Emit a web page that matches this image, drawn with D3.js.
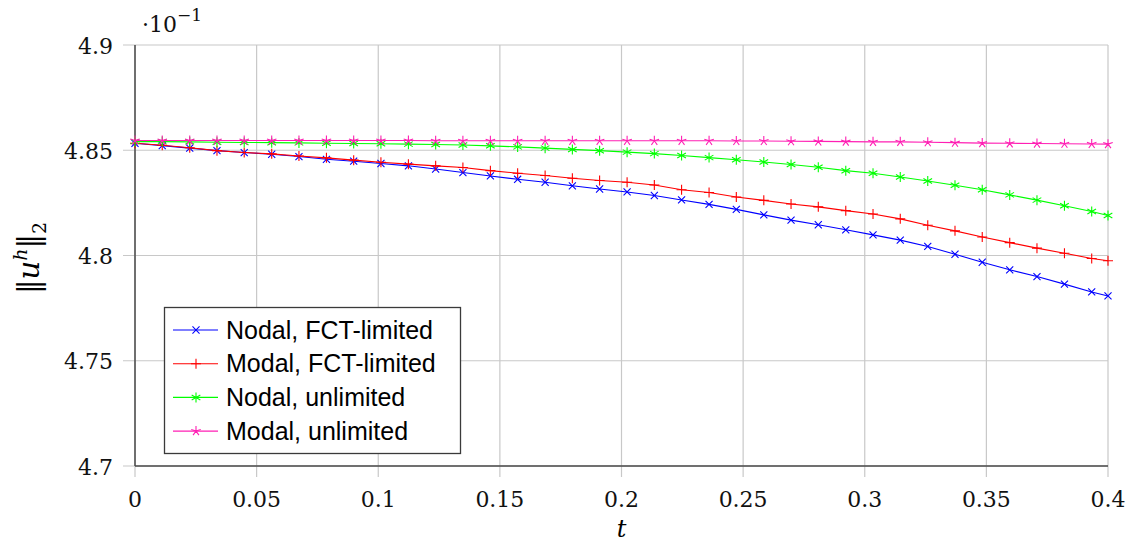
<!DOCTYPE html>
<meta charset="utf-8" />
<style>
  body {
    margin: 0;
    background: #fff;
  }

  .grid line {
    stroke: #c8c8c8;
    stroke-width: 1.2px;
  }

  .ticklabel {
    font-family: "DejaVu Serif", serif;
    font-size: 22px;
    fill: #111;
  }

  .legend text {
    font-family: "Liberation Sans", Arial, sans-serif;
    font-size: 25px;
    fill: #000;
  }
</style>
<svg width="1130" height="544"></svg>

<script src="https://d3js.org/d3.v7.min.js"></script>
<script>
  /* global d3 */

  var time = [
    0, 0.0112, 0.0225, 0.0337, 0.0449, 0.0562, 0.0674, 0.0787, 0.0899, 0.1011,
    0.1124, 0.1236, 0.1348, 0.1461, 0.1573, 0.1686, 0.1798, 0.191, 0.2023,
    0.2135, 0.2247, 0.236, 0.2472, 0.2585, 0.2697, 0.2809, 0.2922, 0.3034,
    0.3146, 0.3259, 0.3371, 0.3483, 0.3596, 0.3708, 0.3821, 0.3933, 0.4
  ];

  var nodalFct = [
    4.8533, 4.8522, 4.851, 4.8498, 4.8489, 4.8481, 4.847, 4.8457, 4.8448,
    4.8437, 4.8426, 4.8411, 4.8394, 4.8378, 4.8362, 4.8348, 4.8331, 4.8316,
    4.8302, 4.8285, 4.8264, 4.8243, 4.8219, 4.8193, 4.8168, 4.8146, 4.8122,
    4.8098, 4.8073, 4.8043, 4.8006, 4.7968, 4.7932, 4.79, 4.7864, 4.7827,
    4.7808
  ];

  var modalFct = [
    4.8533, 4.8524, 4.8512, 4.8498, 4.8489, 4.8483, 4.8473, 4.8464, 4.8453,
    4.8443, 4.8434, 4.8426, 4.8418, 4.8403, 4.8391, 4.838, 4.8367, 4.8356,
    4.8348, 4.8335, 4.8312, 4.8299, 4.8278, 4.8262, 4.8245, 4.8231, 4.8213,
    4.8197, 4.8174, 4.8144, 4.8117, 4.8088, 4.8061, 4.8035, 4.8011, 4.7986,
    4.7975
  ];

  var nodalUnlim = [
    4.8541, 4.8541, 4.854, 4.8538, 4.8537, 4.8536, 4.8535, 4.8533, 4.8532,
    4.8531, 4.8529, 4.8527, 4.8525, 4.8521, 4.8516, 4.851, 4.8504, 4.8498,
    4.8491, 4.8484, 4.8475, 4.8465, 4.8455, 4.8444, 4.8432, 4.8419, 4.8403,
    4.8391, 4.8373, 4.8354, 4.8334, 4.8312, 4.8288, 4.8263, 4.8236, 4.8209,
    4.819
  ];

  var modalUnlim = [
    4.8546, 4.8546, 4.8546, 4.8546, 4.8546, 4.8546, 4.8546, 4.8546, 4.8546,
    4.8546, 4.8546, 4.8545, 4.8545, 4.8545, 4.8545, 4.8545, 4.8545, 4.8545,
    4.8545, 4.8545, 4.8545, 4.8545, 4.8544, 4.8544, 4.8543, 4.8542, 4.8541,
    4.854, 4.854, 4.8538, 4.8536, 4.8534, 4.8533, 4.8532, 4.8531, 4.853,
    4.8529
  ];

  var xTicks = [0, 0.05, 0.1, 0.15, 0.2, 0.25, 0.3, 0.35, 0.4];
  var yTicks = [4.7, 4.75, 4.8, 4.85, 4.9];

  var series = [
    { name: "Nodal, FCT-limited", values: nodalFct, color: "#0000ff", mark: "cross" },
    { name: "Modal, FCT-limited", values: modalFct, color: "#ff0000", mark: "plus" },
    { name: "Nodal, unlimited", values: nodalUnlim, color: "#00ff00", mark: "asterisk" },
    { name: "Modal, unlimited", values: modalUnlim, color: "#ff1fb4", mark: "star" }
  ];

  var svg = d3.select("svg");
  var plotL = 135,
    plotR = 1108,
    plotT = 45,
    plotB = 466;

  var x = d3.scaleLinear().domain([0, 0.4]).range([plotL, plotR]);
  var y = d3.scaleLinear().domain([4.7, 4.9]).range([plotB, plotT]);

  // marker shapes, pgfplots style
  function markPath(kind, r) {
    var p = d3.path();
    function spoke(a, both) {
      var dx = Math.cos(a) * r,
        dy = -Math.sin(a) * r;
      if (both) {
        p.moveTo(-dx, -dy);
      } else {
        p.moveTo(0, 0);
      }
      p.lineTo(dx, dy);
    }
    if (kind === "cross") {
      spoke(Math.PI / 4, true);
      spoke(-Math.PI / 4, true);
    } else if (kind === "plus") {
      spoke(0, true);
      spoke(Math.PI / 2, true);
    } else if (kind === "asterisk") {
      spoke(Math.PI / 2, true);
      spoke(Math.PI / 6, true);
      spoke(-Math.PI / 6, true);
    } else {
      for (var i = 0; i < 5; i++) spoke(Math.PI / 2 + (i * 2 * Math.PI) / 5, false);
    }
    return p.toString();
  }

  // grid + tick extensions
  var grid = svg.append("g").attr("class", "grid");
  grid
    .selectAll("line.gx")
    .data(xTicks)
    .enter()
    .append("line")
    .attr("class", "gx")
    .attr("x1", function (d) { return x(d); })
    .attr("x2", function (d) { return x(d); })
    .attr("y1", plotT)
    .attr("y2", plotB + 11);
  grid
    .selectAll("line.gy")
    .data(yTicks)
    .enter()
    .append("line")
    .attr("class", "gy")
    .attr("x1", plotL - 12)
    .attr("x2", plotR)
    .attr("y1", function (d) { return y(d); })
    .attr("y2", function (d) { return y(d); });

  // axis lines (left and bottom only)
  svg.append("line")
    .attr("x1", plotL).attr("x2", plotL)
    .attr("y1", plotT).attr("y2", plotB)
    .attr("stroke", "#4a4a4a").attr("stroke-width", 1.5);
  svg.append("line")
    .attr("x1", plotL).attr("x2", plotR)
    .attr("y1", plotB).attr("y2", plotB)
    .attr("stroke", "#4a4a4a").attr("stroke-width", 1.5);

  // tick labels
  svg.selectAll("text.xt")
    .data(xTicks)
    .enter()
    .append("text")
    .attr("class", "ticklabel xt")
    .attr("x", function (d) { return x(d); })
    .attr("y", plotB + 41)
    .attr("text-anchor", "middle")
    .text(function (d) { return d; });

  svg.selectAll("text.yt")
    .data(yTicks)
    .enter()
    .append("text")
    .attr("class", "ticklabel yt")
    .attr("x", plotL - 22)
    .attr("y", function (d) { return y(d) + 8.5; })
    .attr("text-anchor", "end")
    .text(function (d) { return d; });

  // ·10^-1 multiplier
  var mult = svg.append("text").attr("class", "ticklabel").attr("x", 142).attr("y", 32);
  mult.append("tspan").text("·10");
  mult.append("tspan").attr("dy", -11).style("font-size", "17px").text("−1");

  // axis labels
  svg.append("text")
    .attr("x", x(0.2))
    .attr("y", 537)
    .attr("text-anchor", "middle")
    .style("font-family", "DejaVu Serif, serif")
    .style("font-style", "italic")
    .style("font-size", "24px")
    .text("t");

  var yl = svg.append("text")
    .attr("transform", "translate(39,258) rotate(-90)")
    .attr("text-anchor", "middle")
    .style("font-family", "DejaVu Serif, serif")
    .style("font-size", "29px");
  yl.append("tspan").text("‖");
  yl.append("tspan").style("font-style", "italic").text("u");
  yl.append("tspan").attr("dy", -12).style("font-style", "italic").style("font-size", "19px").text("h");
  yl.append("tspan").attr("dy", 12).text("‖");
  yl.append("tspan").attr("dy", 7).style("font-size", "19px").text("2");

  // series
  var line = d3
    .line()
    .x(function (d, i) { return x(time[i]); })
    .y(function (d) { return y(d); });

  var plots = svg.selectAll("g.series").data(series).enter().append("g").attr("class", "series");

  plots.append("path")
    .attr("d", function (s) { return line(s.values); })
    .attr("fill", "none")
    .attr("stroke", function (s) { return s.color; })
    .attr("stroke-width", 1.1);

  plots.each(function (s) {
    d3.select(this)
      .selectAll("path.mk")
      .data(s.values)
      .enter()
      .append("path")
      .attr("class", "mk")
      .attr("transform", function (d, i) { return "translate(" + x(time[i]) + "," + y(d) + ")"; })
      .attr("d", markPath(s.mark, 5))
      .attr("fill", "none")
      .attr("stroke", s.color)
      .attr("stroke-width", 1.1);
  });

  // legend
  var lg = svg.append("g").attr("class", "legend");
  lg.append("rect")
    .attr("x", 164.5).attr("y", 307.5)
    .attr("width", 296).attr("height", 146)
    .attr("fill", "#fff")
    .attr("stroke", "#3a3a3a")
    .attr("stroke-width", 1.3);

  var rows = lg.selectAll("g.row")
    .data(series)
    .enter()
    .append("g")
    .attr("class", "row")
    .attr("transform", function (d, i) { return "translate(0," + (330 + i * 33.7) + ")"; });
  rows.append("line")
    .attr("x1", 173).attr("x2", 218)
    .attr("stroke", function (s) { return s.color; })
    .attr("stroke-width", 1.1);
  rows.append("path")
    .attr("transform", "translate(196,0)")
    .attr("d", function (s) { return markPath(s.mark, 5); })
    .attr("fill", "none")
    .attr("stroke", function (s) { return s.color; })
    .attr("stroke-width", 1.1);
  rows.append("text")
    .attr("x", 226)
    .attr("y", 8.5)
    .text(function (s) { return s.name; });
</script>
